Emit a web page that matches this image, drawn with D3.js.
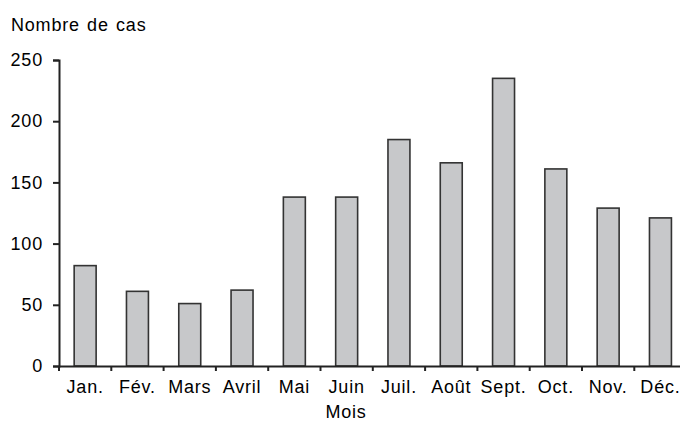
<!DOCTYPE html>
<html>
<head>
<meta charset="utf-8">
<script src="https://cdn.jsdelivr.net/npm/d3@7"></script>
<style>
  body { margin: 0; background: #fff; }
  svg { display: block; }
  svg text {
    font-family: 'Liberation Sans', Arial, sans-serif;
    font-size: 18px;
    letter-spacing: 0.8px;
    word-spacing: 1.5px;
    fill: #000;
  }
</style>
</head>
<body>
<div class="chart"></div>
<script>
const months = ['Jan.', 'Fév.', 'Mars', 'Avril', 'Mai', 'Juin', 'Juil.', 'Août', 'Sept.', 'Oct.', 'Nov.', 'Déc.'];
const cases = [82, 61, 51, 62, 138, 138, 185, 166, 235, 161, 129, 121];
const yTicks = [0, 50, 100, 150, 200, 250];

const width = 680;
const height = 422;
const margin = { top: 60, left: 59, bottom: 56 };

const svg = d3
  .select('.chart')
  .append('svg')
  .attr('width', width)
  .attr('height', height);

const x = d3
  .scaleBand()
  .domain(months)
  .range([margin.left, margin.left + 12 * 52.3])
  .paddingInner(0.58)
  .paddingOuter(0.29);
const y = d3
  .scaleLinear()
  .domain([0, 250])
  .range([height - margin.bottom, margin.top]);

// bars
svg
  .selectAll('rect')
  .data(months)
  .enter()
  .append('rect')
  .attr('x', d => x(d))
  .attr('y', (d, i) => y(cases[i]))
  .attr('width', x.bandwidth())
  .attr('height', (d, i) => y(0) - y(cases[i]))
  .attr('fill', '#c7c8ca')
  .attr('stroke', '#333')
  .attr('stroke-width', 1.6);

// y axis
const yAxis = svg
  .append('g')
  .attr('transform', `translate(${margin.left},0)`)
  .call(d3.axisLeft(y).tickValues(yTicks).tickSize(6).tickPadding(10));
yAxis.attr('font-family', null).attr('font-size', null);
yAxis.selectAll('path, line').attr('stroke', '#222').attr('stroke-width', 2);
yAxis.selectAll('text').attr('fill', '#000');

// x axis: labels at band centers, ticks at band boundaries
const xAxis = svg
  .append('g')
  .attr('transform', `translate(0,${y(0)})`)
  .call(d3.axisBottom(x).tickSize(0).tickPadding(14).tickSizeOuter(0));
xAxis.attr('font-family', null).attr('font-size', null);
xAxis.select('.domain').attr('stroke', '#222').attr('stroke-width', 2);
xAxis.selectAll('text').attr('fill', '#000');

const half = (x.step() * x.paddingInner()) / 2;
svg
  .append('g')
  .selectAll('line')
  .data(months)
  .enter()
  .append('line')
  .attr('x1', d => x(d) - half)
  .attr('x2', d => x(d) - half)
  .attr('y1', y(0))
  .attr('y2', y(0) + 5)
  .attr('stroke', '#222')
  .attr('stroke-width', 2);

// titles
svg
  .append('text')
  .attr('x', 11)
  .attr('y', 31)
  .text('Nombre de cas');
svg
  .append('text')
  .attr('x', 346)
  .attr('y', 418)
  .attr('text-anchor', 'middle')
  .text('Mois');
</script>
</body>
</html>
